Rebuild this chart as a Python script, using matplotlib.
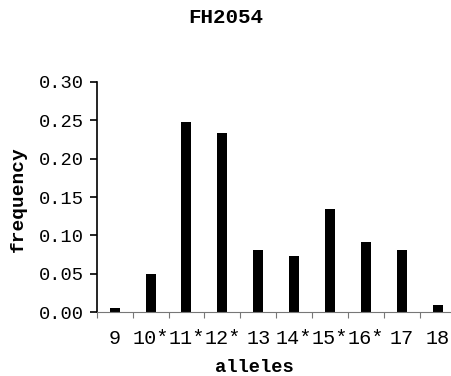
import matplotlib
matplotlib.use("Agg")
import matplotlib.pyplot as plt
import numpy as np

alleles = ["9", "10*", "11*", "12*", "13", "14*", "15*", "16*", "17", "18"]
frequency = [0.005, 0.049, 0.248, 0.234, 0.081, 0.073, 0.134, 0.092, 0.081, 0.009]
yticks = [0.00, 0.05, 0.10, 0.15, 0.20, 0.25, 0.30]

plt.rcParams['font.family'] = ['Liberation Mono', 'DejaVu Sans Mono']

fig = plt.figure(figsize=(4.52, 3.76), dpi=100)
ax = fig.add_axes([0.214, 0.170, 0.794, 0.612])

x = np.arange(len(alleles))
ax.bar(x, frequency, width=0.28, color='black')

ax.set_xlim(-0.5, len(alleles) - 0.5)
ax.set_ylim(0, 0.30)
ax.set_yticks(yticks)
ax.set_yticklabels([f"{v:.2f}" for v in yticks], fontsize=13.5)
ax.set_xticks(x)
ax.set_xticklabels(alleles, fontsize=14.5)
ax.tick_params(axis='x', which='major', length=0, pad=12)
ax.set_xticks(np.arange(len(alleles)) - 0.5, minor=True)
ax.tick_params(axis='x', which='minor', length=4, color='#777777', width=0.8)
ax.tick_params(axis='y', length=5, width=1.2, color='black', pad=4)

for s in ['top', 'right']:
    ax.spines[s].set_visible(False)
ax.spines['left'].set_linewidth(1.2)
ax.spines['bottom'].set_color('#777777')
ax.spines['bottom'].set_linewidth(0.8)

ax.set_ylabel('frequency', fontsize=14, fontweight='bold')
ax.yaxis.set_label_coords(-0.194, 0.49)
ax.set_xlabel('alleles', fontsize=13.5, fontweight='bold')
ax.xaxis.set_label_coords(0.438, -0.205)
fig.text(0.5, 0.953, 'FH2054', ha='center', va='center', fontsize=15, fontweight='bold')

fig.savefig('out.png', dpi=100)
